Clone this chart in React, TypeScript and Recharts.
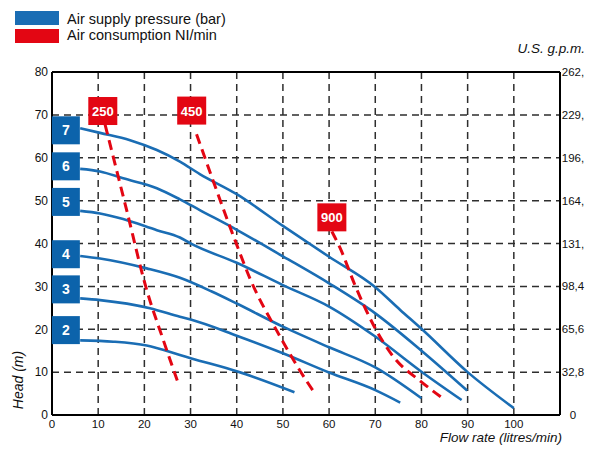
import React from "react";
import {
  LineChart,
  Line,
  XAxis,
  YAxis,
  CartesianGrid,
  ReferenceDot,
  Legend,
} from "recharts";

const FONT = '"Liberation Sans", Arial, Helvetica, sans-serif';
const BLUE = "#1a6db4";
const BOX_BLUE = "#0c63ab";
const RED = "#e30613";
const GRID = { stroke: "#2e2e2e", strokeWidth: 1.5, strokeDasharray: "7 5" };

// axes
const flowTicks = [0, 10, 20, 30, 40, 50, 60, 70, 80, 90, 100];
const headTicks = [0, 10, 20, 30, 40, 50, 60, 70, 80];
const gpmLabels = ["0", "2,6", "5,2", "7,9", "10,5", "13,2", "15,8", "18,4", "21,1", "23,7", "26,4"];
const gpmHeadLabels = ["0", "32,8", "65,6", "98,4", "131,", "164,", "196,", "229,", "262,"];

// air supply pressure curves (flow l/min, head m)
const bar7 = [
  [6.1, 66.9], [10.4, 65.8], [16.9, 64.1], [22.7, 61.8], [27.7, 59.1], [32, 56.2],
  [40, 51.5], [50, 44.1], [60, 36.9], [70, 29.8], [75.4, 24.5], [80, 20.1], [90, 10], [100, 1.6],
];
const bar6 = [
  [6.1, 57.4], [10.4, 56.8], [15.4, 55.2], [22.7, 52.9], [27.7, 50.3], [32, 47.8],
  [40, 43.2], [50, 37], [60, 30.7], [70, 23.7], [80, 15], [89.9, 5.7],
];
const bar5 = [
  [6.1, 47.6], [10.4, 47], [15.4, 45.7], [22.7, 43.1], [27.7, 41.4], [30.2, 39.9],
  [40, 35.5], [50, 30.3], [60, 25.3], [70, 18.3], [80, 10.1], [88.7, 3.5],
];
const bar4 = [
  [6.1, 37.1], [10.4, 36.5], [20.5, 34.2], [27.7, 32], [34.6, 28.8], [40, 26],
  [50, 20.6], [60, 15.8], [70, 11.1], [80, 3.9],
];
const bar3 = [
  [6.1, 27.2], [10.4, 26.8], [21.2, 24.9], [27.7, 22.9], [30.2, 22.2], [40, 18.5],
  [50, 14.4], [60, 9.9], [70, 5.8], [75.4, 2.9],
];
const bar2 = [
  [6.1, 17.4], [13.3, 17.1], [20.5, 16.2], [27.7, 14], [30.2, 13.2], [40, 10.2], [52.5, 5.3],
];

// air consumption lines
const nl250 = [[11.5, 67.7], [16, 48.5], [20.5, 29.2], [24, 17.8], [27.3, 7.5]];
const nl450 = [[31.3, 65.5], [34.9, 54.6], [40, 39.7], [43, 31.5], [48.6, 19.8], [55.2, 7.8], [56.7, 5.4]];
const nl900 = [[60.6, 42.8], [62.4, 38.9], [65.6, 30.3], [69.6, 21], [73.9, 13.6], [79.9, 7.8], [85.1, 3.5]];

const pressureNames = ["2", "3", "4", "5", "6", "7"];
const pressureCurves = [bar2, bar3, bar4, bar5, bar6, bar7];
const pressureTagX = [3, 3, 3, 3, 3, 3];
const pressureTagY = [19.8, 29.3, 37.5, 49.7, 58, 66.4];

const consumptionNames = ["250", "450", "900"];
const consumptionCurves = [nl250, nl450, nl900];
const consumptionTagX = [11, 30.25, 60.6];
const consumptionTagY = [70.9, 71, 46.1];

const toPoints = (pts: number[][]) => pts.map(([x, y]) => ({ x, y }));

function TagBox(props: any) {
  const { cx, cy, text, fill, w } = props;
  if (cx == null || cy == null) return null;
  return (
    <g>
      <rect x={cx - w / 2} y={cy - 14} width={w} height={28} fill={fill} />
      <text
        x={cx}
        y={cy + 5}
        textAnchor="middle"
        fill="#fff"
        fontWeight="bold"
        fontSize={text.length > 1 ? 13 : 14}
        fontFamily={FONT}
      >
        {text}
      </text>
    </g>
  );
}

function LegendBox() {
  return (
    <svg width={300} height={48} style={{ display: "block" }}>
      <rect x={15} y={11} width={44} height={14} fill={BLUE} />
      <rect x={15} y={29} width={44} height={14} fill={RED} />
      <text x={67} y={24} fontSize={14.5} fontFamily={FONT} fill="#111">
        Air supply pressure (bar)
      </text>
      <text x={67} y={39.5} fontSize={14.5} fontFamily={FONT} fill="#111">
        Air consumption NI/min
      </text>
    </svg>
  );
}

// dashed grid line drawn by the grid for every tick
function GridLine(props: any) {
  const { x1, y1, x2, y2 } = props;
  return <line x1={x1} y1={y1} x2={x2} y2={y2} {...GRID} fill="none" />;
}

export default function App() {
  const tickStyle = { fontSize: 12, fill: "#111", fontFamily: FONT };
  return (
    <div style={{ position: "absolute", left: 0, top: 0, width: 590, height: 449, background: "#fff" }}>
      <LineChart width={590} height={449} margin={{ top: 52, right: 0, bottom: 0, left: 0 }}>
        <CartesianGrid {...GRID} horizontal={GridLine} vertical={GridLine} />
        <XAxis
          dataKey="x"
          type="number"
          domain={[0, 110]}
          ticks={flowTicks}
          height={34}
          allowDataOverflow
          axisLine={{ stroke: "#000", strokeWidth: 2 }}
          tickLine={false}
          tick={(p: any) => (
            <text x={p.x} y={427.5} textAnchor="middle" fontSize={11.5} fontFamily={FONT} fill="#111">
              {p.payload.value}
            </text>
          )}
          label={{
            content: () => (
              <text x={562} y={442} textAnchor="end" fontStyle="italic" fontSize={13.5} fontFamily={FONT} fill="#111">
                Flow rate (litres/min)
              </text>
            ),
          }}
        />
        <XAxis
          xAxisId="top"
          orientation="top"
          type="number"
          domain={[0, 110]}
          ticks={flowTicks}
          height={20}
          allowDataOverflow
          axisLine={{ stroke: "#000", strokeWidth: 2 }}
          tickLine={false}
          tickSize={0}
          tickMargin={0}
          tick={(p: any) => (
            <text x={p.x} y={70.5} textAnchor="middle" fontSize={11.5} fontFamily={FONT} fill="#111">
              {gpmLabels[p.index]}
            </text>
          )}
          label={{
            content: () => (
              <text x={585} y={53} textAnchor="end" fontStyle="italic" fontSize={13.5} fontFamily={FONT} fill="#111">
                U.S. g.p.m.
              </text>
            ),
          }}
        />
        <YAxis
          type="number"
          domain={[0, 80]}
          ticks={headTicks}
          width={52}
          allowDataOverflow
          axisLine={{ stroke: "#000", strokeWidth: 2 }}
          tickLine={false}
          tickSize={2}
          tickMargin={2}
          tick={tickStyle}
          label={{
            content: () => (
              <text
                x={23}
                y={380}
                transform="rotate(-90 23 380)"
                textAnchor="middle"
                fontStyle="italic"
                fontSize={14}
                fontFamily={FONT}
                fill="#111"
              >
                Head (m)
              </text>
            ),
          }}
        />
        <YAxis
          yAxisId="right"
          orientation="right"
          type="number"
          domain={[0, 80]}
          ticks={headTicks}
          width={30}
          allowDataOverflow
          axisLine={{ stroke: "#000", strokeWidth: 2 }}
          tickLine={false}
          tickSize={0}
          tickMargin={0}
          tick={(p: any) => (
            <text x={573} y={p.y + 4} textAnchor="middle" fontSize={11.5} fontFamily={FONT} fill="#111">
              {gpmHeadLabels[p.index]}
            </text>
          )}
        />
        <Legend
          layout="horizontal"
          verticalAlign="middle"
          align="center"
          wrapperStyle={{ top: 0, left: 0, width: 300, height: 48 }}
          content={() => <LegendBox />}
        />
        {pressureCurves.map((pts, i) => (
          <Line
            key={"bar" + pressureNames[i]}
            name={pressureNames[i] + " bar"}
            data={toPoints(pts)}
            dataKey="y"
            type="monotone"
            stroke={BLUE}
            strokeWidth={2.6}
            dot={false}
            activeDot={false}
            isAnimationActive={false}
          />
        ))}
        {consumptionCurves.map((pts, i) => (
          <Line
            key={"nl" + consumptionNames[i]}
            name={consumptionNames[i] + " Nl/min"}
            data={toPoints(pts)}
            dataKey="y"
            type="monotone"
            stroke={RED}
            strokeWidth={3}
            strokeDasharray="10 6"
            dot={false}
            activeDot={false}
            isAnimationActive={false}
          />
        ))}
        {pressureNames.map((name, i) => (
          <ReferenceDot
            key={"tag" + name}
            x={pressureTagX[i]}
            y={pressureTagY[i]}
            r={14}
            ifOverflow="visible"
            shape={(p: any) => <TagBox {...p} text={name} fill={BOX_BLUE} w={28} />}
          />
        ))}
        {consumptionNames.map((name, i) => (
          <ReferenceDot
            key={"tagnl" + name}
            x={consumptionTagX[i]}
            y={consumptionTagY[i]}
            r={14}
            ifOverflow="visible"
            shape={(p: any) => <TagBox {...p} text={name} fill={RED} w={29} />}
          />
        ))}
      </LineChart>
    </div>
  );
}
